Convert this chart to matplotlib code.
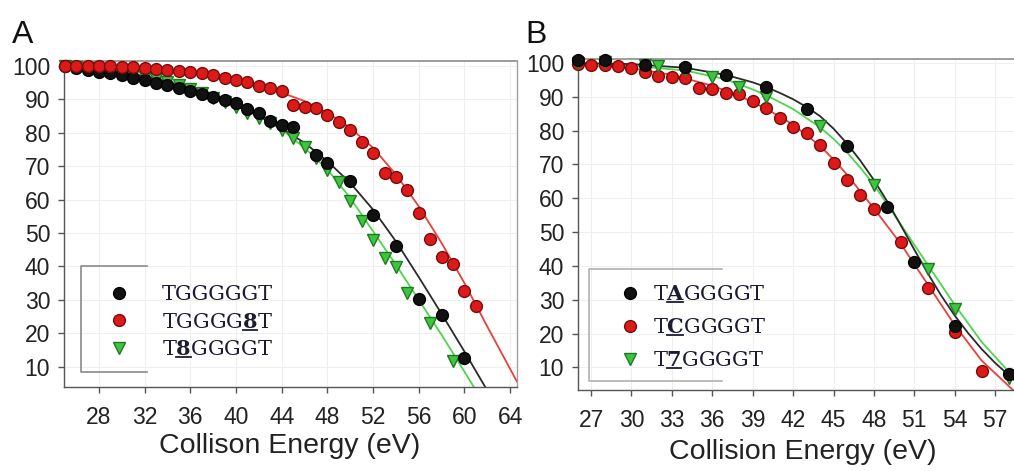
import matplotlib
matplotlib.use('Agg')
import matplotlib.pyplot as plt
from matplotlib.lines import Line2D
from matplotlib.font_manager import FontProperties
from matplotlib.transforms import IdentityTransform

plt.rcParams['font.family'] = ['Liberation Sans', 'DejaVu Sans']
plt.rcParams['mathtext.fontset'] = 'custom'
plt.rcParams['mathtext.rm'] = 'DejaVu Serif'
plt.rcParams['mathtext.bf'] = 'DejaVu Serif:bold'

# ---------------- Panel A data ----------------
a_black_E = [25, 26, 27, 28, 29, 30, 31, 32, 33, 34, 35, 36, 37, 38, 39, 40, 41, 42, 43, 44, 45,
             47, 48, 50, 52, 54, 56, 58, 60]
a_black_V = [100, 99.3, 98.8, 98.3, 97.8, 97.3, 96.5, 95.8, 95.0, 94.3, 93.5, 92.5, 91.5, 90.7,
             89.8, 88.9, 87.0, 86.0, 83.5, 82.3, 81.7, 73.4, 71.0, 65.6, 55.4, 46.0, 30.2, 25.4, 12.6]
a_red_E = list(range(25, 62))
a_red_V = [100, 100, 100, 100, 99.9, 99.8, 99.6, 99.3, 99.0, 98.8, 98.5, 98.2, 97.9, 97.3, 96.4,
           95.8, 95.2, 94.0, 93.4, 92.5, 88.3, 87.7, 87.4, 85.3, 83.2, 80.8, 77.2, 74.0, 68.0,
           66.8, 62.9, 56.0, 48.2, 42.8, 40.7, 32.6, 28.1]
a_green_E = [25, 26, 27, 28, 29, 30, 31, 32, 33, 34, 35, 36, 37, 38, 39, 40, 41, 42, 43, 44, 45,
             46, 47, 48, 49, 50, 51, 52, 53, 54, 55, 57, 59]
a_green_V = [100, 99.6, 99.3, 98.9, 98.5, 98.0, 97.4, 96.8, 96.0, 95.2, 94.3, 93.2, 92.0, 90.5,
             89.2, 87.6, 86.0, 84.5, 83.0, 80.8, 78.4, 75.7, 72.6, 69.0, 65.2, 59.5, 53.5, 48.0,
             42.5, 39.8, 32.0, 23.0, 11.6]
# fitted curves
a_black_fit_E = [25, 28, 31, 34, 37, 40, 42, 44, 46, 48, 50, 52, 54, 56, 58, 60, 61.8]
a_black_fit_V = [100, 99.2, 97.6, 95.2, 92.0, 88.0, 85.0, 81.3, 77.0, 71.5, 65.0, 57.0, 47.5,
                 36.8, 25.8, 14.5, 4.0]
a_red_fit_E = [25, 30, 34, 38, 41, 44, 46, 48, 50, 52, 54, 56, 58, 60, 62, 64.6]
a_red_fit_V = [100, 99.7, 98.9, 97.0, 95.0, 92.0, 89.5, 86.0, 81.5, 75.5, 67.5, 58.0, 47.0,
               35.0, 22.0, 5.5]
a_green_fit_E = [25, 28, 31, 34, 37, 40, 42, 44, 46, 48, 50, 52, 54, 56, 58, 60, 60.8]
a_green_fit_V = [100, 99.3, 97.8, 95.5, 92.5, 88.5, 85.0, 81.0, 75.5, 69.0, 60.5, 50.5, 40.5,
                 30.0, 19.5, 8.5, 4.0]
a_labels = ['TGGGGGT', r'TGGGG$\mathbf{8}$T', r'T$\mathbf{8}$GGGGT']
a_label_plain = ['TGGGGGT', 'TGGGG8T', 'T8GGGGT']
a_underline = [None, 5, 1]
a_xticks = [28, 32, 36, 40, 44, 48, 52, 56, 60, 64]

# ---------------- Panel B data ----------------
b_black_E = [26, 28, 31, 34, 37, 40, 43, 46, 49, 51, 54, 58]
b_black_V = [100.8, 100.8, 99.5, 98.8, 96.4, 92.9, 86.4, 75.4, 57.4, 41.1, 22.3, 8.0]
b_red_E = [26, 27, 28, 29, 30, 31, 32, 33, 34, 35, 36, 37, 38, 39, 40, 41, 42, 43, 44, 45, 46,
           47, 48, 50, 52, 54, 56]
b_red_V = [99.6, 99.4, 99.4, 99.1, 98.5, 97.3, 96.2, 95.9, 95.6, 92.6, 92.3, 91.1, 90.8, 88.8,
           86.6, 83.7, 81.1, 79.3, 75.7, 70.4, 65.4, 60.9, 56.8, 47.0, 33.4, 20.4, 8.9]
b_green_E = [26, 28, 31, 32, 34, 36, 38, 40, 44, 48, 52, 54, 58]
b_green_V = [100.0, 100.2, 99.5, 99.0, 98.0, 95.9, 92.9, 89.9, 81.4, 63.9, 39.0, 27.2, 6.8]
b_black_fit_E = [26, 30, 34, 37, 39, 40, 41, 42, 43, 44, 45, 46, 47, 48, 49, 50, 51, 52, 53, 54,
                 55, 56, 57, 58.4]
b_black_fit_V = [100, 99.7, 98.6, 96.5, 94.3, 92.9, 91.2, 89.3, 87.0, 84.3, 80.6, 76.2, 71.1,
                 65.4, 59.0, 52.0, 44.8, 37.8, 31.2, 25.3, 20.1, 15.4, 11.3, 6.3]
b_red_fit_E = [26, 30, 33, 36, 38, 40, 42, 44, 45, 46, 47, 48, 50, 52, 54, 56, 58.4]
b_red_fit_V = [99.6, 98.5, 96.5, 93.3, 90.3, 86.5, 81.8, 75.5, 71.5, 67.0, 62.0, 57.0, 46.5,
               34.5, 22.5, 12.0, 3.0]
b_green_fit_E = [26, 30, 34, 37, 39, 40, 42, 44, 45, 46, 47, 48, 49, 50, 52, 54, 56, 58.4]
b_green_fit_V = [99.5, 99.2, 97.8, 95.2, 92.2, 90.5, 86.4, 81.0, 77.6, 73.6, 69.0, 64.0, 58.2,
                 52.2, 40.3, 28.5, 17.5, 7.0]
b_labels = [r'T$\mathbf{A}$GGGGT', r'T$\mathbf{C}$GGGGT', r'T$\mathbf{7}$GGGGT']
b_label_plain = ['TAGGGGT', 'TCGGGGT', 'T7GGGGT']
b_underline = [1, 1, 1]
b_xticks = [27, 30, 33, 36, 39, 42, 45, 48, 51, 54, 57]
yticks = [10, 20, 30, 40, 50, 60, 70, 80, 90, 100]

# ---------------- styles ----------------
BLACK = dict(marker='o', mfc='#111111', mec='#000000', c='#2a2a2a')
RED = dict(marker='o', mfc='#dd1a1a', mec='#7a0a0a', c='#e8413c')
GREEN = dict(marker='v', mfc='#3fc43f', mec='#1f7a1f', c='#4fd44f')
MS = 8.5

W, H = 1014, 471
fig = plt.figure(figsize=(W / 100, H / 100), dpi=100)
axA = fig.add_axes([64 / W, (H - 387) / H, 453 / W, 326 / H])
axB = fig.add_axes([578 / W, (H - 390) / H, 436 / W, 331 / H])


def style(ax, xlim, ylim, xticks, right):
    ax.set_xlim(*xlim)
    ax.set_ylim(*ylim)
    ax.set_xticks(xticks)
    ax.set_yticks(yticks)
    if right:
        ax.spines['right'].set_color('#a0a0a0')
        ax.spines['right'].set_linewidth(1.0)
    else:
        ax.spines['right'].set_visible(False)
    ax.spines['top'].set_color('#8c8c8c')
    ax.spines['top'].set_linewidth(1.2)
    for s in ('left', 'bottom'):
        ax.spines[s].set_color('#555555')
        ax.spines[s].set_linewidth(1.0)
    ax.tick_params(direction='out', length=4, width=1, colors='#555555',
                   labelcolor='#222222', labelsize=16.5)
    ax.tick_params(axis='x', pad=10)
    ax.tick_params(axis='y', pad=6)
    ax.grid(True, color='#efefef', lw=0.8)
    ax.set_axisbelow(True)


def draw(ax, E, V, fE, fV, st):
    ax.plot(fE, fV, '-', color=st['c'], lw=1.3, zorder=2)
    ax.plot(E, V, ls='none', marker=st['marker'], ms=MS, mfc=st['mfc'], mec=st['mec'],
            mew=1.0, zorder=3, clip_on=False)


style(axA, (24.94, 64.6), (3.9, 101.5), a_xticks, True)
draw(axA, a_green_E, a_green_V, a_green_fit_E, a_green_fit_V, GREEN)
draw(axA, a_black_E, a_black_V, a_black_fit_E, a_black_fit_V, BLACK)
draw(axA, a_red_E, a_red_V, a_red_fit_E, a_red_fit_V, RED)

style(axB, (26.03, 58.4), (3.3, 101.2), b_xticks, False)
draw(axB, b_red_E, b_red_V, b_red_fit_E, b_red_fit_V, RED)
draw(axB, b_green_E, b_green_V, b_green_fit_E, b_green_fit_V, GREEN)
draw(axB, b_black_E, b_black_V, b_black_fit_E, b_black_fit_V, BLACK)

axA.set_xlabel('Collison Energy (eV)', fontsize=20.5, color='#222222', va='baseline')
axA.xaxis.set_label_coords((290 - 64) / 453, -0.2025)
axB.set_xlabel('Collision Energy (eV)', fontsize=20.5, color='#222222', va='baseline')
axB.xaxis.set_label_coords(0.516, -0.2085)

fig.text(12 / W, 1 - 43 / H, 'A', fontsize=23, va='baseline', ha='left', color='#111111')
fig.text(525 / W, 1 - 43 / H, 'B', fontsize=23, va='baseline', ha='left', color='#111111')

legprop = FontProperties(family='DejaVu Serif', size=15)


def make_legend(ax, labels, anchor, textpad, spacing, box, boxcolor):
    hs = [Line2D([], [], ls='none', marker=st['marker'], ms=MS, mfc=st['mfc'], mec=st['mec'],
                 mew=1.0) for st in (BLACK, RED, GREEN)]
    leg = ax.legend(hs, labels, loc='upper left', bbox_to_anchor=anchor, frameon=False,
                    prop=legprop, handlelength=1.0, handletextpad=textpad,
                    labelspacing=spacing, borderpad=0, borderaxespad=0)
    for t in leg.get_texts():
        t.set_color('#1c1c30')
    x0, x1, top, bot = box
    ax.add_line(Line2D([x1, x0, x0, x1], [top, top, bot, bot], transform=ax.transAxes,
                       color=boxcolor, lw=1.2, clip_on=False, zorder=1))
    return leg


legA = make_legend(axA, a_labels, ((108.6 - 64) / 453, 0.313), 1.57, 0.42,
                   ((81 - 64) / 453, (147 - 64) / 453, 0.371, 0.046), '#8a8a8a')
legB = make_legend(axB, b_labels, (0.095, 0.317), 0.6, 0.67,
                   (0.025, 0.330, 0.366, 0.027), '#b0b0b0')

fig.canvas.draw()
renderer = fig.canvas.get_renderer()
boldprop = legprop.copy()
boldprop.set_weight('bold')
for leg, plain, idxs in ((legA, a_label_plain, a_underline), (legB, b_label_plain, b_underline)):
    for t, s, k in zip(leg.get_texts(), plain, idxs):
        if k is None:
            continue
        bb = t.get_window_extent(renderer)
        pre = renderer.get_text_width_height_descent(s[:k], legprop, ismath=False)[0] if k else 0
        cw = renderer.get_text_width_height_descent(s[k], boldprop, ismath=False)[0]
        y = bb.y0 + 2.0
        fig.add_artist(Line2D([bb.x0 + pre, bb.x0 + pre + cw], [y, y],
                              transform=IdentityTransform(), color='#1c1c30', lw=1.3))

fig.savefig('out.png', dpi=100)
